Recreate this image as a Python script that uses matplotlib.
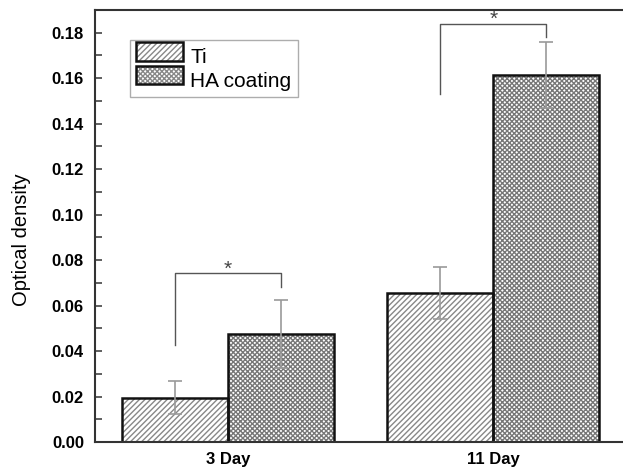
import numpy as np
import matplotlib.pyplot as plt
from matplotlib.patches import Patch, Rectangle

plt.rcParams['font.family'] = ['Liberation Sans', 'DejaVu Sans']
plt.rcParams['hatch.linewidth'] = 1.0

days = ["3 Day", "11 Day"]
ti_mean = [0.0194, 0.0656]
ti_err = [0.0073, 0.0115]
ha_mean = [0.0475, 0.1615]
ha_err = [0.0150, 0.0145]

# significance brackets: (left bottom, top, right bottom) per group
sig_left = [0.0427, 0.153]
sig_top = [0.0744, 0.184]
sig_right = [0.068, 0.178]

x = np.arange(len(days))
w = 0.4

fig = plt.figure(figsize=(6.23, 4.70), dpi=100)
ax = fig.add_axes([95/623, 28/470, 531/623, 432/470])

# hatched fill, then black outline on top
ax.bar(x - w/2, ti_mean, w, color='white', edgecolor='#888888', hatch='//////', linewidth=0)
ax.bar(x + w/2, ha_mean, w, color='white', edgecolor='#777777', hatch='xxxxxxx', linewidth=0)
ax.bar(x - w/2, ti_mean, w, fill=False, edgecolor='#111111', linewidth=1.8)
ax.bar(x + w/2, ha_mean, w, fill=False, edgecolor='#111111', linewidth=1.8)

ax.errorbar(x - w/2, ti_mean, yerr=ti_err, fmt='none', ecolor='#999999', elinewidth=1.2, capsize=5, capthick=1.2)
ax.errorbar(x + w/2, ha_mean, yerr=ha_err, fmt='none', ecolor='#999999', elinewidth=1.2, capsize=5, capthick=1.2)

for i in range(len(days)):
    xl, xr = x[i] - w/2, x[i] + w/2
    ax.plot([xl, xl, xr, xr], [sig_left[i], sig_top[i], sig_top[i], sig_right[i]],
            color='#555555', lw=1.0)
    ax.text(x[i], sig_top[i] - 0.0025, '*', ha='center', va='bottom', fontsize=15, color='#444444')

ax.set_xlim(-0.5, 1.5)
ax.set_ylim(0, 0.19)
ax.set_xticks(x)
ax.set_xticklabels(days, fontsize=12, fontweight='bold')
ax.tick_params(axis='x', length=0, pad=7)
ax.set_yticks(np.arange(0, 0.181, 0.02))
ax.set_yticklabels([f"{v:.2f}" for v in np.arange(0, 0.181, 0.02)], fontsize=12, fontweight='bold')
ax.set_yticks(np.arange(0.01, 0.19, 0.02), minor=True)
ax.tick_params(axis='y', which='both', direction='in', length=5, width=1.2, color='#444444', pad=8)
ax.set_ylabel("Optical density", fontsize=14.5)
ax.yaxis.set_label_coords(-0.12, 0.468)

for s in ax.spines.values():
    s.set_linewidth(1.5)
    s.set_color('#333333')


# legend key: gray hatch inside a black frame, like the bars
class HatchKey:
    def legend_artist(self, legend, orig, fontsize, handlebox):
        x0, y0 = handlebox.xdescent, handlebox.ydescent
        wd, ht = handlebox.width, handlebox.height
        t = handlebox.get_transform()
        back = Rectangle((x0, y0), wd, ht, facecolor='white', edgecolor='#888888',
                         hatch=orig.get_hatch(), linewidth=0, transform=t)
        frame = Rectangle((x0, y0), wd, ht, fill=False, edgecolor='#111111',
                          linewidth=1.8, transform=t)
        handlebox.add_artist(back)
        handlebox.add_artist(frame)
        return frame


handles = [Patch(hatch='//////', label='Ti'), Patch(hatch='xxxxxxx', label='HA coating')]
leg = ax.legend(handles=handles, handler_map={Patch: HatchKey()}, loc='upper left',
                bbox_to_anchor=(0.066, 0.93), fontsize=15,
                frameon=True, fancybox=False, handlelength=2.25, handleheight=1.0,
                borderpad=0.3, labelspacing=0.15, handletextpad=0.35, borderaxespad=0)
leg.get_frame().set_edgecolor('#999999')
leg.get_frame().set_linewidth(1.0)

fig.savefig("out.png", dpi=100)
